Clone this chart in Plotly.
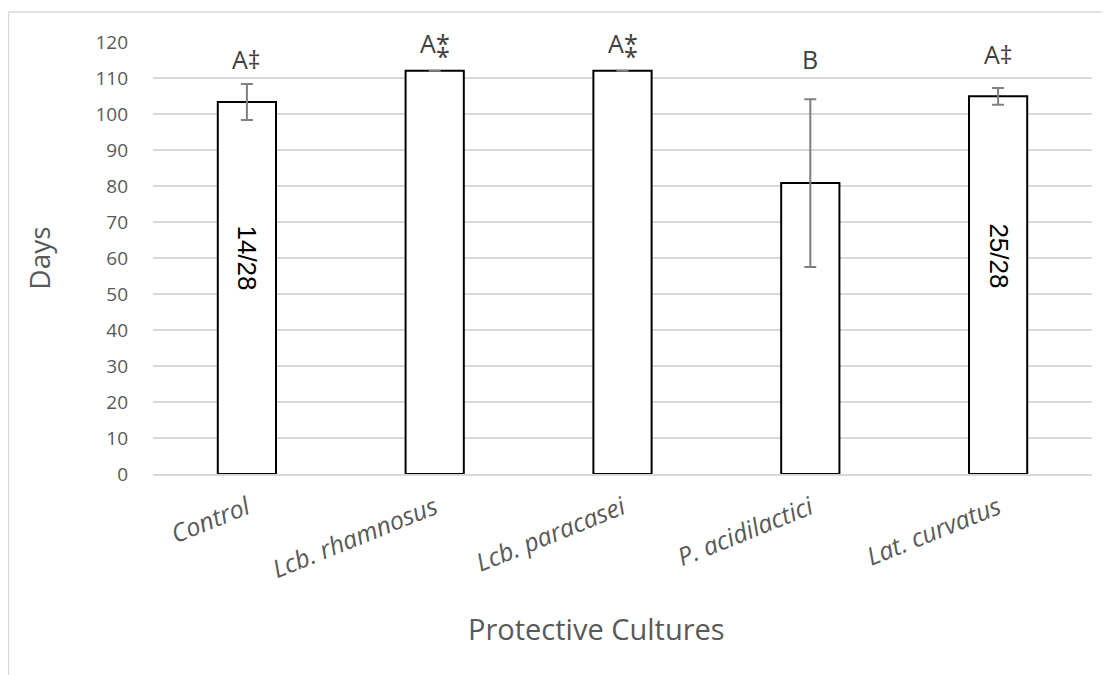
import plotly.graph_objects as go

categories = ["Control", "Lcb. rhamnosus", "Lcb. paracasei", "P. acidilactici", "Lat. curvatus"]
days = [103.3, 112.0, 112.0, 80.8, 104.9]
err = [5.0, 0.0, 0.0, 23.3, 2.3]
letters = ["A‡", "A⁑", "A⁑", "B", "A‡"]
inner_labels = ["14/28", "", "", "", "25/28"]
y_ticks = list(range(0, 121, 10))

# label placement (layout, not data)
letter_y = [115.2, 119.6, 119.6, 115.4, 116.6]
inner_y = [59.9, 0, 0, 0, 60.7]

L, R, T, B = 145, 26, 34, 209
W, H = 1110, 675
PW, PH = W - L - R, H - T - B


def px_x(p):
    return (p - L) / PW


def px_y(p):
    return (H - B - p) / PH


fig = go.Figure()
fig.add_trace(go.Bar(
    x=categories, y=days, width=0.31,
    marker=dict(color="white", line=dict(color="black", width=2)),
    error_y=dict(type="data", array=err, visible=True, color="#808080", thickness=2, width=6),
    showlegend=False, hoverinfo="skip",
))

for c, t, yy in zip(categories, letters, letter_y):
    fig.add_annotation(x=c, y=yy, text=t, showarrow=False,
                       font=dict(family="Open Sans", size=25, color="#404040"))
for c, t, yy in zip(categories, inner_labels, inner_y):
    if t:
        fig.add_annotation(x=c, y=yy, text=t, showarrow=False, textangle=90,
                           font=dict(family="Liberation Sans", size=26, color="black"))

# x-axis title
fig.add_annotation(xref="paper", yref="paper", x=px_x(588), y=px_y(620),
                   xanchor="center", yanchor="middle",
                   text="Protective Cultures", showarrow=False,
                   font=dict(family="Open Sans", size=29, color="#595959"))

# outer chart border (top and left)
fig.add_shape(type="line", xref="paper", yref="paper",
              x0=px_x(0.5), x1=px_x(W + 10), y0=px_y(4), y1=px_y(4),
              line=dict(color="#d9d9d9", width=1.5))
fig.add_shape(type="line", xref="paper", yref="paper",
              x0=px_x(0.5), x1=px_x(0.5), y0=px_y(H + 10), y1=px_y(4),
              line=dict(color="#d9d9d9", width=1.5))

fig.update_layout(
    width=W, height=H,
    margin=dict(l=L, r=R, t=T, b=B),
    plot_bgcolor="white", paper_bgcolor="white",
    font=dict(family="Open Sans", color="#595959"),
    xaxis=dict(
        type="category", showgrid=False, showline=True, linecolor="#d9d9d9", linewidth=1.5,
        ticks="", tickangle=-22, ticklabelstandoff=8,
        tickfont=dict(family="Open Sans", size=25, color="#595959", style="italic"),
    ),
    yaxis=dict(
        range=[0, 120], tickvals=y_ticks, showgrid=True, gridcolor="#d9d9d9", gridwidth=1.5,
        zeroline=False, showline=False, ticks="", ticklabelstandoff=24,
        tickfont=dict(family="Open Sans", size=19, color="#595959"),
        title=dict(text="Days", font=dict(family="Open Sans", size=28, color="#595959"), standoff=36),
    ),
)

fig.write_html("out.html")
